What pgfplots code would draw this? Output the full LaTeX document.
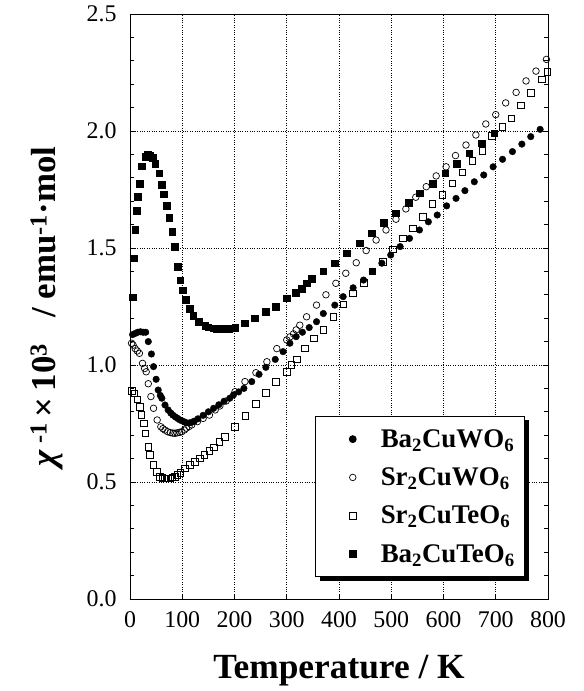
\documentclass[border=0pt]{standalone}
\usepackage{pgfplots}
\pgfplotsset{compat=1.18}
\usepackage{fontspec}
\setmainfont{Liberation Serif}
\usetikzlibrary{shadows}
\pgfplotsset{mymarklegend/.style={legend image code/.code={\pgfpathrectangle{\pgfpoint{0bp}{-3bp}}{\pgfpoint{55bp}{6bp}}\pgfusepath{}\draw[##1] plot coordinates {(29bp,0bp)};}}}

\pgfplotstableread{
T y
5 1.13
10 1.135
15 1.14
20 1.142
25 1.14
30 1.14
35 1.10
41 1.047
45 0.993
50 0.939
54 0.893
58 0.87
61 0.858
67 0.829
73 0.808
78 0.795
82 0.786
87 0.778
91 0.772
95 0.766
99 0.762
104 0.757
108 0.753
113 0.752
118 0.755
123 0.76
130 0.77
140 0.785
150 0.80
160 0.815
170 0.83
180 0.845
191 0.858
198 0.872
208 0.885
218 0.90
233 0.929
247 0.96
260 0.99
278 1.024
293 1.057
306 1.093
318 1.121
330 1.14
343 1.16
357 1.185
370 1.22
392 1.256
408 1.292
427 1.33
447 1.363
464 1.40
482 1.435
499 1.47
517 1.506
535 1.541
554 1.577
571 1.612
588 1.641
606 1.68
624 1.712
641 1.745
659 1.783
677 1.812
695 1.847
713 1.879
732 1.912
750 1.944
767 1.976
785 2.007
}\bacuwo

\pgfplotstableread{
T y
3 1.093
6 1.085
10 1.07
14 1.06
18 1.05
24 1.007
28 0.985
31 0.971
35 0.92
40 0.865
45 0.815
52 0.765
59 0.736
63 0.728
67 0.722
72 0.715
77 0.711
82 0.709
86 0.708
90 0.71
95 0.712
99 0.715
104 0.722
108 0.73
113 0.737
118 0.744
129 0.758
140 0.772
152 0.786
163 0.808
172 0.825
184 0.846
201 0.886
220 0.929
241 0.967
262 1.014
281 1.07
300 1.107
306 1.12
313 1.133
318 1.15
325 1.17
338 1.206
357 1.256
375 1.30
394 1.349
413 1.392
433 1.437
452 1.489
471 1.534
490 1.577
509 1.623
528 1.667
547 1.717
567 1.762
586 1.808
605 1.847
623 1.895
643 1.94
662 1.983
681 2.03
700 2.07
719 2.12
739 2.165
758 2.214
777 2.256
797 2.306
}\srcuwo

\pgfplotstableread{
T y
3 0.89
8 0.879
14 0.853
19 0.822
22 0.786
26 0.75
29 0.708
35 0.651
38 0.615
45 0.573
51 0.544
57 0.523
62 0.518
67 0.516
72 0.515
77 0.516
81 0.52
86 0.523
91 0.53
96 0.54
105 0.558
115 0.573
124 0.587
134 0.601
142 0.615
152 0.634
161 0.648
171 0.672
182 0.694
201 0.736
221 0.782
241 0.833
260 0.882
279 0.929
300 0.971
309 1.0
319 1.024
335 1.071
352 1.114
370 1.15
389 1.205
408 1.26
427 1.306
447 1.352
464 1.40
484 1.442
503 1.494
522 1.541
541 1.584
560 1.634
579 1.688
598 1.726
617 1.776
636 1.823
655 1.873
674 1.916
693 1.979
713 2.018
730 2.054
748 2.11
767 2.164
788 2.22
799 2.254
}\srcuteo

\pgfplotstableread{
T y
5 1.29
8 1.457
10 1.577
13 1.66
15 1.72
18 1.776
22 1.85
29 1.89
34 1.90
38 1.897
43 1.885
48 1.86
56 1.82
61 1.77
65 1.73
70 1.68
75 1.63
81 1.57
86 1.506
91 1.42
96 1.363
101 1.32
107 1.28
114 1.24
121 1.21
131 1.185
144 1.167
150 1.162
159 1.157
165 1.156
179 1.154
190 1.156
201 1.16
220 1.178
239 1.2
260 1.228
279 1.25
300 1.285
317 1.31
329 1.327
338 1.35
348 1.37
370 1.40
392 1.435
415 1.477
440 1.52
463 1.563
485 1.608
509 1.648
533 1.694
555 1.734
579 1.776
603 1.82
625 1.86
649 1.905
673 1.947
697 1.99
}\bacuteo

\begin{document}
\begin{tikzpicture}
\begin{axis}[
  scale only axis,
  width=418bp, height=585bp,
  xmin=0, xmax=800, ymin=0, ymax=2.5,
  xtick={0,100,...,800},
  ytick={0,0.5,...,2.5},
  minor y tick num=4,
  tick align=inside,
  xtick pos=bottom,
  ytick pos=both,
  yticklabel pos=left,
  major tick length=5bp,
  minor tick length=4bp,
  axis line style={line width=0.9pt},
  every tick/.style={black, line width=0.7pt},
  grid=major,
  major grid style={dotted, black, line width=0.7pt},
  /pgf/number format/assume math mode=true,
  tick label style={font=\fontsize{24}{26}\selectfont},
  yticklabel style={xshift=-10bp, /pgf/number format/.cd, fixed, fixed zerofill, precision=1},
  xticklabel style={yshift=-9bp, /pgf/number format/.cd, fixed, precision=0},
  xlabel={\textbf{Temperature / K}},
  ylabel={\textbf{\textit{χ}\,\textsuperscript{-1}\,×\,10\textsuperscript{3}\ \ \ / emu\textsuperscript{-1}·mol}},
  xlabel style={font=\fontsize{35.5}{38}\selectfont, at={(axis description cs:0.5,-0.123)}, anchor=center},
  ylabel style={font=\fontsize{35}{38}\selectfont, at={(axis description cs:-0.199,0.5)}, anchor=center},
  legend cell align=left,
  legend style={at={(0.443,0.313)}, anchor=north west, draw=black, line width=1.2pt, fill=white,
    font=\fontsize{27}{30}\selectfont\bfseries, inner xsep=8bp, inner ysep=11bp, row sep=15bp,
    drop shadow={shadow xshift=4bp, shadow yshift=-4bp, fill=black, opacity=1}},
]
\coordinate (SW) at (rel axis cs:0,0);
\coordinate (NE) at (rel axis cs:1,1);
\addplot[only marks, mymarklegend, mark=*, mark size=3.3bp, mark options={draw=black, fill=black}] table[x=T,y=y] {\bacuwo};
\addlegendentry{Ba\textsubscript{2}CuWO\textsubscript{6}}
\addplot[only marks, mymarklegend, mark=o, mark size=3.3bp, mark options={draw=black, fill=white, line width=0.7pt}] table[x=T,y=y] {\srcuwo};
\addlegendentry{Sr\textsubscript{2}CuWO\textsubscript{6}}
\addplot[only marks, mymarklegend, mark=square, mark size=3.3bp, mark options={draw=black, fill=white, line width=0.7pt}] table[x=T,y=y] {\srcuteo};
\addlegendentry{Sr\textsubscript{2}CuTeO\textsubscript{6}}
\addplot[only marks, mymarklegend, mark=square*, mark size=3.3bp, mark options={draw=black, fill=black}] table[x=T,y=y] {\bacuteo};
\addlegendentry{Ba\textsubscript{2}CuTeO\textsubscript{6}}
\end{axis}
\pgfresetboundingbox
\path ([shift={(-130bp,-92bp)}]SW) rectangle ([shift={(36bp,14bp)}]NE);
\end{tikzpicture}
\end{document}
